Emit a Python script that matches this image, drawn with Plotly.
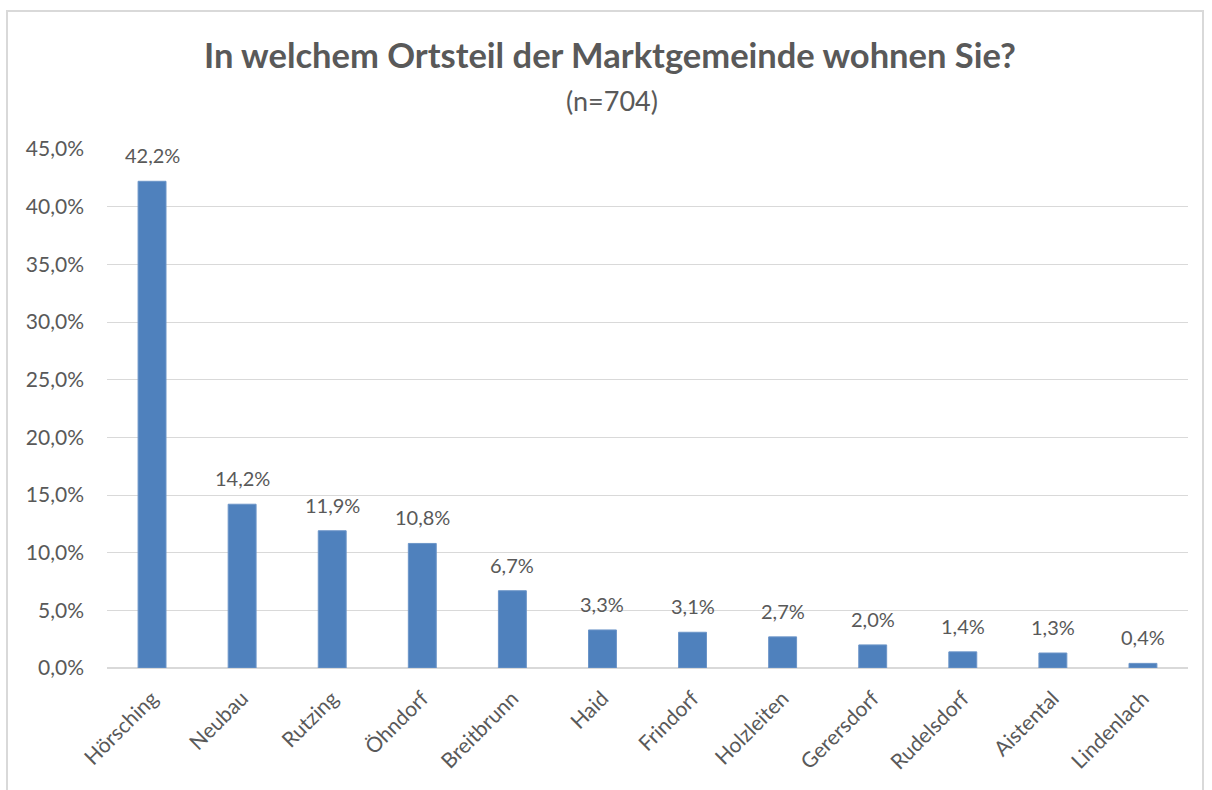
import plotly.graph_objects as go

categories = ["Hörsching", "Neubau", "Rutzing", "Öhndorf", "Breitbrunn", "Haid",
              "Frindorf", "Holzleiten", "Gerersdorf", "Rudelsdorf", "Aistental", "Lindenlach"]
values = [42.2, 14.2, 11.9, 10.8, 6.7, 3.3, 3.1, 2.7, 2.0, 1.4, 1.3, 0.4]
tick_vals = [0, 5, 10, 15, 20, 25, 30, 35, 40, 45]

def fmt(v):
    return f"{v:.1f}".replace(".", ",") + "%"

labels = [fmt(v) for v in values]
tick_text = [fmt(v) for v in tick_vals]

FONT = "Lato"
GREY = "#595959"

fig = go.Figure(go.Bar(
    x=categories, y=values,
    marker=dict(color="#4F81BD", line=dict(color="#6C95C8", width=1)),
    cliponaxis=False, width=0.31,
))

W, H = 1212, 790
L, R, T, B = 107, 24, 149, 122
pw, ph = W - L - R, H - T - B

def px(x):
    return (x - L) / pw

def py(y):
    return (H - B - y) / ph

annotations = [
    dict(x=c, y=v, text=t, xref="x", yref="y", showarrow=False,
         yanchor="bottom", yshift=12, font=dict(family=FONT, size=20, color=GREY))
    for c, v, t in zip(categories, values, labels)
]
annotations += [
    dict(text="<b>In welchem Ortsteil der Marktgemeinde wohnen Sie?</b>",
         x=px(610), y=py(54), xref="paper", yref="paper", showarrow=False,
         font=dict(family=FONT, size=34.5, color=GREY), xanchor="center", yanchor="middle"),
    dict(text="(n=704)", x=px(612), y=py(100), xref="paper", yref="paper",
         showarrow=False, font=dict(family=FONT, size=27, color=GREY),
         xanchor="center", yanchor="middle"),
]

fig.update_layout(
    width=W, height=H,
    margin=dict(l=L, r=R, t=T, b=B),
    paper_bgcolor="white", plot_bgcolor="white",
    showlegend=False,
    font=dict(family=FONT, color=GREY),
    xaxis=dict(tickangle=-45, tickfont=dict(family=FONT, size=21, color=GREY),
               showgrid=False, showline=False, ticks="", ticklabelstandoff=13),
    yaxis=dict(range=[0, 45], tickvals=tick_vals, ticktext=tick_text,
               tickfont=dict(family=FONT, size=21, color=GREY),
               showgrid=True, gridcolor="#D9D9D9", gridwidth=1,
               zeroline=True, zerolinecolor="#D9D9D9", zerolinewidth=2,
               showline=False, ticks="", ticklabelstandoff=22),
    annotations=annotations,
    shapes=[
        dict(type="rect", xref="paper", yref="paper",
             x0=px(7), x1=px(1203), y0=py(800), y1=py(11),
             line=dict(color="#D9D9D9", width=2), layer="below"),
    ],
)

fig.write_html("out.html", config={"displayModeBar": False},
               post_script="document.body.style.margin='0';")
